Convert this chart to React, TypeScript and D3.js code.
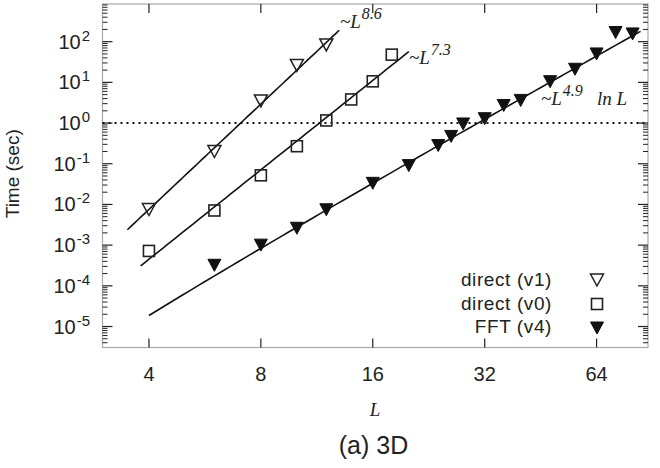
import React from "react";
import * as d3 from "d3";

// ---- data ----
const L_v1 = [4, 6, 8, 10, 12];
const T_v1 = [0.0075, 0.2, 3.5, 26, 83];

const L_v0 = [4, 6, 8, 10, 12, 14, 16, 18];
const T_v0 = [7.2e-4, 0.0071, 0.052, 0.27, 1.16, 3.8, 10.6, 48];

const L_fft = [6, 8, 10, 12, 16, 20, 24, 26, 28, 32, 36, 40, 48, 56, 64, 72, 80];
const T_fft = [3.2e-4, 1.0e-3, 2.6e-3, 7.4e-3, 0.033, 0.09, 0.28, 0.47, 0.95, 1.28, 2.7, 3.6, 10.4, 21, 50, 168, 155];

// fit curves: T = 10^logC * L^p * (lnL ? ln L : 1), over [Lmin, Lmax]
const fitNames = ["v1", "v0", "fft"];
const fitExponents = [8.6, 7.3, 4.9];
const fitLogCoef = [-7.30, -7.742, -7.822];
const fitUsesLn = [false, false, true];
const fitLmin = [3.5, 3.8, 4];
const fitLmax = [13, 20, 84];

const xTicks = [4, 8, 16, 32, 64];
const yMajorExps = [-5, -4, -3, -2, -1, 0, 1, 2];
const legendLabels = ["direct (v1)", "direct (v0)", "FFT (v4)"];
const legendSymbols = ["openTri", "square", "filledTri"];

const W = 660;
const H = 468;
const sans = "'Liberation Sans', Arial, sans-serif";
const serif = "'Liberation Serif', 'Times New Roman', serif";
const ink = "#222";
const frame = "#a8a8a8";

const x = d3.scaleLog().base(2).domain([3, 88]).range([102.5, 648]);
const y = d3.scaleLog().domain([3.05e-6, 843]).range([347.5, 4]);

function Marker({ kind, cx, cy }: { kind: string; cx: number; cy: number }) {
  if (kind === "square") {
    const s = 11;
    return (
      <rect x={cx - s / 2} y={cy - s / 2} width={s} height={s} fill="none" stroke={ink} strokeWidth={1.6} />
    );
  }
  const w = 6.5;
  const h = 6;
  const pts = `${cx - w},${cy - h} ${cx + w},${cy - h} ${cx},${cy + h}`;
  if (kind === "filledTri") {
    return <polygon points={pts} fill="#111" stroke="#111" strokeWidth={1} />;
  }
  return <polygon points={pts} fill="none" stroke={ink} strokeWidth={1.5} />;
}

export default function App() {
  const [x0, x1] = x.range();
  const [yb, yt] = y.range();
  const [dMin, dMax] = y.domain();

  // minor ticks
  const minor: number[] = [];
  for (let e = -6; e <= 3; e++) {
    for (let k = 2; k <= 9; k++) {
      const v = k * Math.pow(10, e);
      if (v >= dMin && v <= dMax) minor.push(v);
    }
  }

  const fitPaths = fitNames.map((_, i) => {
    const Ls = d3.range(0, 61).map((j) => {
      const a = Math.log(fitLmin[i]);
      const b = Math.log(fitLmax[i]);
      return Math.exp(a + ((b - a) * j) / 60);
    });
    const line = d3
      .line<number>()
      .x((L) => x(L))
      .y((L) => y(Math.pow(10, fitLogCoef[i]) * Math.pow(L, fitExponents[i]) * (fitUsesLn[i] ? Math.log(L) : 1)));
    return line(Ls) as string;
  });

  return (
    <svg width={W} height={H} style={{ position: "absolute", left: 0, top: 0, background: "#fff" }}>
      {/* frame */}
      <rect x={x0} y={yt} width={x1 - x0} height={yb - yt} fill="none" stroke={frame} strokeWidth={1.2} />

      {/* y ticks, left and right */}
      {yMajorExps.map((e) => {
        const yy = y(Math.pow(10, e));
        return (
          <g key={"ym" + e}>
            <line x1={x0} x2={x0 + 10} y1={yy} y2={yy} stroke={ink} strokeWidth={1.2} />
            <line x1={x1} x2={x1 - 10} y1={yy} y2={yy} stroke={ink} strokeWidth={1.2} />
            <text x={90} y={yy + 7} textAnchor="end" fontFamily={sans} fontSize={20} fill={ink}>
              10
              <tspan fontSize={15} dy={-8} dx={1}>
                {String(e)}
              </tspan>
            </text>
          </g>
        );
      })}
      {minor.map((v, i) => {
        const yy = y(v);
        return (
          <g key={"yn" + i}>
            <line x1={x0} x2={x0 + 5} y1={yy} y2={yy} stroke={ink} strokeWidth={1} />
            <line x1={x1} x2={x1 - 5} y1={yy} y2={yy} stroke={ink} strokeWidth={1} />
          </g>
        );
      })}

      {/* x ticks, bottom and top */}
      {xTicks.map((t) => {
        const xx = x(t);
        return (
          <g key={"xt" + t}>
            <line x1={xx} x2={xx} y1={yb} y2={yb - 9} stroke={ink} strokeWidth={1.2} />
            <line x1={xx} x2={xx} y1={yt} y2={yt + 9} stroke={ink} strokeWidth={1.2} />
            <text x={xx} y={380.5} textAnchor="middle" fontFamily={sans} fontSize={20} fill={ink}>
              {t}
            </text>
          </g>
        );
      })}

      {/* dotted reference at 1 sec */}
      <line x1={x0} x2={x1} y1={y(1)} y2={y(1)} stroke="#111" strokeWidth={2} strokeDasharray="2,4" />

      {/* fit curves */}
      {fitPaths.map((d, i) => (
        <path key={"fit" + i} d={d} fill="none" stroke="#111" strokeWidth={1.6} />
      ))}

      {/* data points */}
      {L_v1.map((L, i) => (
        <Marker key={"a" + i} kind="openTri" cx={x(L)} cy={y(T_v1[i])} />
      ))}
      {L_v0.map((L, i) => (
        <Marker key={"b" + i} kind="square" cx={x(L)} cy={y(T_v0[i])} />
      ))}
      {L_fft.map((L, i) => (
        <Marker key={"c" + i} kind="filledTri" cx={x(L)} cy={y(T_fft[i])} />
      ))}

      {/* fit annotations */}
      <text x={340} y={28} fontFamily={serif} fontStyle="italic" fontSize={19} fill={ink}>
        ~L
        <tspan fontSize={16} dy={-9} dx={1}>8.6</tspan>
      </text>
      <text x={409} y={63.5} fontFamily={serif} fontStyle="italic" fontSize={19} fill={ink}>
        ~L
        <tspan fontSize={16} dy={-9} dx={1}>7.3</tspan>
      </text>
      <text x={541} y={105} fontFamily={serif} fontStyle="italic" fontSize={19} fill={ink}>
        ~L
        <tspan fontSize={16} dy={-9} dx={1}>4.9</tspan>
      </text>
      <text x={597} y={105} fontFamily={serif} fontStyle="italic" fontSize={19} fill={ink}>
        ln L
      </text>

      {/* legend */}
      {legendLabels.map((lab, i) => (
        <g key={"lg" + i}>
          <text
            x={552}
            y={286 + i * 23.5}
            textAnchor="end"
            fontFamily={sans}
            fontSize={19}
            letterSpacing={0.6}
            fill={ink}
          >
            {lab}
          </text>
          <Marker kind={legendSymbols[i]} cx={597} cy={280 + i * 24} />
        </g>
      ))}

      {/* axis titles */}
      <text
        transform={`translate(18.5, ${(yb + yt) / 2 - 2}) rotate(-90)`}
        textAnchor="middle"
        fontFamily={sans}
        fontSize={19}
        fill={ink}
      >
        Time (sec)
      </text>
      <text x={375} y={416} textAnchor="middle" fontFamily={serif} fontStyle="italic" fontSize={19} fill={ink}>
        L
      </text>
      <text x={373.5} y={454} textAnchor="middle" fontFamily={sans} fontSize={25} fill={ink}>
        (a) 3D
      </text>
    </svg>
  );
}
